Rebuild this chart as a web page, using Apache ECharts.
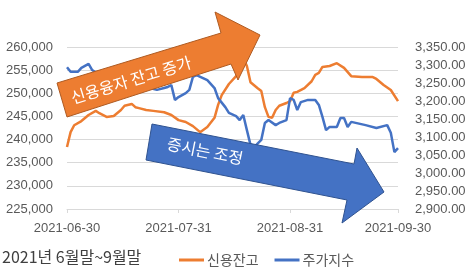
<!DOCTYPE html>
<html><head><meta charset="utf-8">
<script src="https://cdn.jsdelivr.net/npm/echarts@6/dist/echarts.min.js"></script>
<style>html,body{margin:0;padding:0;background:#fff}#c{width:474px;height:269px}</style>
</head><body><div id="c"></div>
<script>
const creditDates = ['2021-06-30','2021-07-01','2021-07-02','2021-07-04','2021-07-06','2021-07-08','2021-07-09','2021-07-11','2021-07-13','2021-07-15','2021-07-16','2021-07-18','2021-07-19','2021-07-20','2021-07-22','2021-07-24','2021-07-27','2021-07-29','2021-07-31','2021-08-02','2021-08-04','2021-08-06','2021-08-08','2021-08-10','2021-08-11','2021-08-12','2021-08-14','2021-08-16','2021-08-18','2021-08-19','2021-08-20','2021-08-22','2021-08-23','2021-08-24','2021-08-25','2021-08-26','2021-08-27','2021-08-28','2021-08-30','2021-08-31','2021-09-01','2021-09-02','2021-09-04','2021-09-06','2021-09-07','2021-09-08','2021-09-09','2021-09-11','2021-09-13','2021-09-15','2021-09-17','2021-09-20','2021-09-23','2021-09-24','2021-09-26','2021-09-28','2021-09-30'];
const creditValues = [238400,241600,243100,244000,245300,246200,245700,244900,245100,246400,247300,247700,247000,246800,246400,246200,245900,245300,244200,243800,242900,241600,242700,244700,247500,249600,252000,253700,257600,255900,252400,251100,250500,247000,244900,244700,246400,247300,247900,248300,250100,250300,251100,252600,254000,254400,255700,255900,256500,255500,253700,253500,253500,253100,251800,250700,248300];
const indexDates = ['2021-06-30','2021-07-01','2021-07-03','2021-07-04','2021-07-06','2021-07-07','2021-07-09','2021-07-11','2021-07-13','2021-07-15','2021-07-18','2021-07-19','2021-07-21','2021-07-23','2021-07-25','2021-07-27','2021-07-28','2021-07-29','2021-07-30','2021-07-31','2021-08-02','2021-08-03','2021-08-04','2021-08-05','2021-08-08','2021-08-10','2021-08-11','2021-08-13','2021-08-14','2021-08-16','2021-08-17','2021-08-18','2021-08-19','2021-08-20','2021-08-21','2021-08-23','2021-08-24','2021-08-25','2021-08-27','2021-08-28','2021-08-30','2021-08-31','2021-09-01','2021-09-02','2021-09-03','2021-09-05','2021-09-07','2021-09-08','2021-09-09','2021-09-10','2021-09-11','2021-09-13','2021-09-14','2021-09-15','2021-09-16','2021-09-17','2021-09-21','2021-09-24','2021-09-27','2021-09-28','2021-09-29','2021-09-30'];
const indexValues = [3294,3281,3281,3292,3303,3286,3272,3258,3264,3244,3236,3250,3231,3236,3231,3236,3239,3244,3203,3211,3222,3231,3267,3272,3258,3236,3208,3183,3167,3158,3147,3161,3119,3078,3072,3092,3139,3147,3133,3139,3147,3208,3203,3175,3197,3203,3203,3189,3156,3119,3128,3128,3153,3153,3128,3142,3133,3125,3133,3112,3058,3069];
const xTickLabels = ['2021-06-30','2021-07-31','2021-08-31','2021-09-30'];
const seriesNames = ['신용잔고','주가지수'];
const periodText = '2021년 6월말~9월말';
const upText = '신용융자 잔고 증가';
const downText = '증시는 조정';

const DAY = 86400000;
function ts(s){const p=s.split('-').map(Number);return Date.UTC(p[0],p[1]-1,p[2]);}
const t0 = ts(xTickLabels[0]);
function dayOf(s){return Math.round((ts(s)-t0)/DAY);}
function fmt(v){const d=new Date(t0+Math.round(v)*DAY);return d.toISOString().slice(0,10);}
const tickVals = xTickLabels.map(dayOf);
const FONT = 'Liberation Sans, Noto Sans, sans-serif';
const KFONT = 'Noto Sans CJK KR, sans-serif';

const chart = echarts.init(document.getElementById('c'), null, {renderer:'canvas'});
chart.setOption({
  animation:false,
  title:{text:periodText,left:0,top:244,padding:[5,2],textStyle:{fontFamily:KFONT,fontSize:16,fontWeight:'normal',color:'#404040'}},
  legend:{left:174,top:248,itemWidth:25,itemHeight:3,itemGap:16,icon:'rect',
    textStyle:{fontFamily:KFONT,fontSize:14,color:'#595959',padding:[0,0,0,-2]},
    data:seriesNames},
  grid:{left:67,right:76,top:47,bottom:60},
  xAxis:{type:'value',min:tickVals[0],max:tickVals[tickVals.length-1],
    axisLine:{show:true,onZero:false,lineStyle:{color:'#D9D9D9'}},
    axisTick:{show:true,length:4,lineStyle:{color:'#D9D9D9'},customValues:tickVals},
    axisLabel:{customValues:tickVals,formatter:fmt,fontFamily:FONT,fontSize:13,color:'#595959',margin:13},
    splitLine:{show:false}},
  yAxis:[
    {type:'value',min:225000,max:260000,interval:5000,position:'left',
     axisLine:{show:false},axisTick:{show:false},
     axisLabel:{fontFamily:FONT,fontSize:13,color:'#595959',margin:14,formatter:v=>v.toLocaleString('en-US')},
     splitLine:{lineStyle:{color:'#D9D9D9'}}},
    {type:'value',min:2900,max:3350,interval:50,position:'right',
     axisLine:{show:false},axisTick:{show:false},
     axisLabel:{fontFamily:FONT,fontSize:13,color:'#595959',margin:17,formatter:v=>v.toLocaleString('en-US',{minimumFractionDigits:2,maximumFractionDigits:2})},
     splitLine:{show:false}}
  ],
  series:[
    {name:seriesNames[0],type:'line',yAxisIndex:0,showSymbol:false,symbol:'none',
     lineStyle:{color:'#ED7D31',width:2.5},itemStyle:{color:'#ED7D31'},
     data:creditDates.map((d,i)=>[dayOf(d),creditValues[i]])},
    {name:seriesNames[1],type:'line',yAxisIndex:1,showSymbol:false,symbol:'none',
     lineStyle:{color:'#4472C4',width:2.5},itemStyle:{color:'#4472C4'},
     data:indexDates.map((d,i)=>[dayOf(d),indexValues[i]])}
  ],
  graphic:[
    {type:'polygon',z:100,shape:{points:[[57,83],[221,33],[215,12],[260,35],[238,80],[231,64],[67,117]]},
     style:{fill:'#ED7D31',stroke:'#AE5A21',lineWidth:1}},
    {type:'text',z:101,x:131,y:80,rotation:0.297,
     style:{text:upText,fill:'#fff',font:'16px '+KFONT,align:'center',verticalAlign:'middle'}},
    {type:'polygon',z:100,shape:{points:[[152,124],[354,164],[357,148],[384,192],[342,223],[347,200],[146,160]]},
     style:{fill:'#4472C4',stroke:'#2F528F',lineWidth:1}},
    {type:'text',z:101,x:205,y:151,rotation:-0.2,
     style:{text:downText,fill:'#fff',font:'16px '+KFONT,align:'center',verticalAlign:'middle'}}
  ]
});
</script></body></html>
